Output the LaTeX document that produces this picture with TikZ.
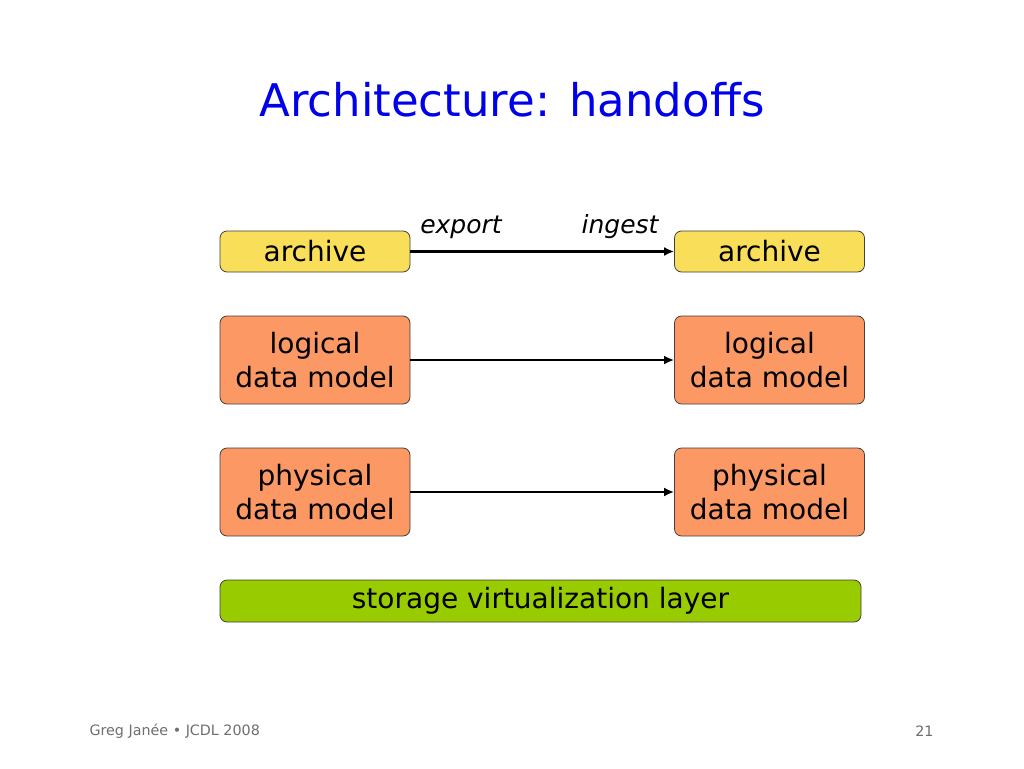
\documentclass[tikz,border=0pt]{standalone}
\usepackage{fontspec}
\setmainfont{DejaVu Sans}
\usetikzlibrary{arrows.meta}
\definecolor{titleblue}{RGB}{0,0,235}
\definecolor{archyellow}{RGB}{249,222,90}
\definecolor{modelorange}{RGB}{252,152,100}
\definecolor{layergreen}{RGB}{153,204,0}
\definecolor{footgray}{RGB}{110,110,110}
\begin{document}
\begin{tikzpicture}[x=1pt,y=-1pt,
  box/.style={draw=black!75,line width=0.8pt,rounded corners=7pt,inner sep=0pt,
    align=center,font=\fontsize{28}{34}\selectfont},
  arch/.style={box,fill=archyellow,minimum width=190pt,minimum height=41pt},
  model/.style={box,fill=modelorange,minimum width=190pt,minimum height=88pt},
  layer/.style={box,fill=layergreen,minimum width=641pt,minimum height=42pt},
  flow/.style={-{Latex[length=10pt,width=9pt]},line width=2.6pt},
  lbl/.style={font=\fontsize{25}{30}\selectfont\itshape,inner sep=0pt}]
\useasboundingbox (0,0) rectangle (1024,768);
\fill[white] (0,0) rectangle (1024,768);
\node[font=\fontsize{45}{54}\selectfont,text=titleblue] (title) at (512,100) {Architecture: handoffs};
\node[arch] (a1) at (315,251.5) {archive};
\node[arch] (a2) at (769.5,251.5) {archive};
\node[model] (l1) at (315,360) {logical\\data model};
\node[model] (l2) at (769.5,360) {logical\\data model};
\node[model] (p1) at (315,492) {physical\\data model};
\node[model] (p2) at (769.5,492) {physical\\data model};
\node[layer] (s) at (540.5,601) {storage virtualization layer};
\draw[flow] (a1) -- (a2);
\draw[flow] (l1) -- (l2);
\draw[flow] (p1) -- (p2);
\node[lbl] (ex) at (461,227) {export};
\node[lbl] (in) at (620,227) {ingest};
\node[font=\fontsize{14.3}{16}\selectfont,text=footgray,anchor=west] (f1) at (86,731) {Greg Janée • JCDL 2008};
\node[font=\fontsize{14.3}{16}\selectfont,text=footgray,anchor=east] (f2) at (937,731) {21};
\end{tikzpicture}
\end{document}
